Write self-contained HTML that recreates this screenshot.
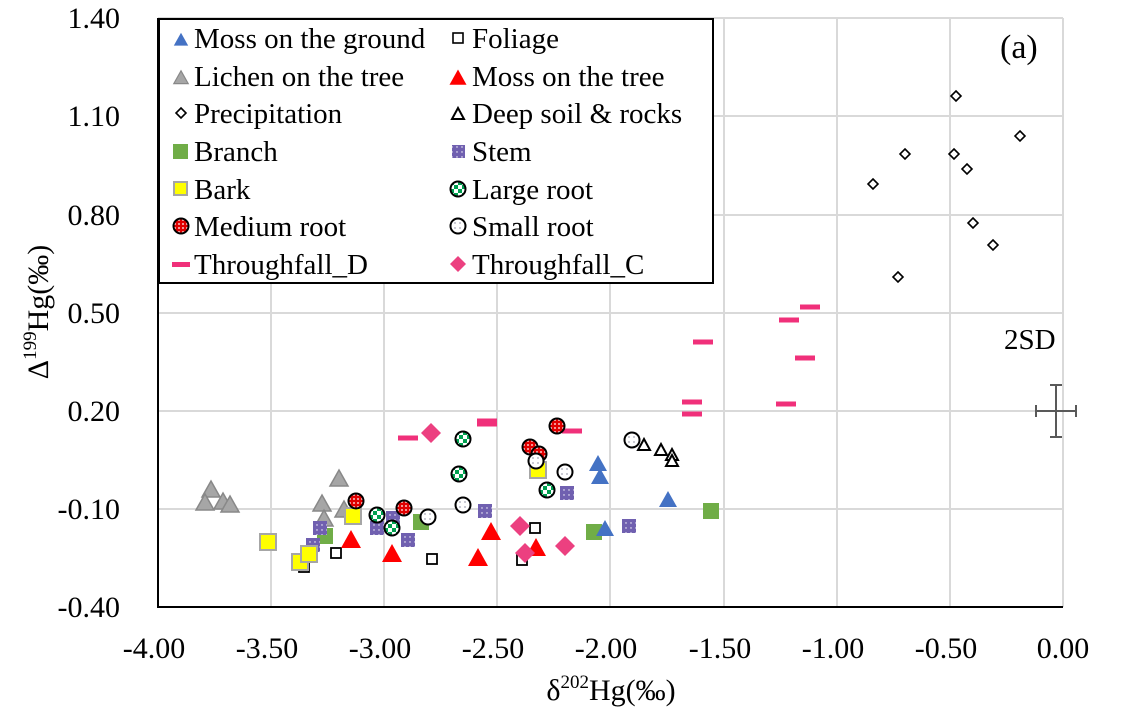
<!DOCTYPE html>
<html><head><meta charset="utf-8"><style>
html,body{margin:0;padding:0;background:#fff}
svg{display:block;font-family:"Liberation Serif",serif}
</style></head><body>
<svg width="1135" height="716" viewBox="0 0 1135 716" xmlns="http://www.w3.org/2000/svg">
<defs>
<pattern id="chk" width="8" height="8" patternUnits="userSpaceOnUse"><rect width="8" height="8" fill="#fff"/><rect width="4" height="4" fill="#00a050"/><rect x="4" y="4" width="4" height="4" fill="#00a050"/></pattern>
<pattern id="red" width="4" height="4" patternUnits="userSpaceOnUse"><rect width="4" height="4" fill="#e00000"/><circle cx="2" cy="2" r="0.9" fill="#fff"/></pattern>
<pattern id="wd" width="5" height="5" patternUnits="userSpaceOnUse"><rect width="5" height="5" fill="#fff"/><circle cx="2" cy="2" r="0.6" fill="#446"/></pattern>
<pattern id="pu" width="5" height="5" patternUnits="userSpaceOnUse"><rect width="5" height="5" fill="#7060b0"/><circle cx="2" cy="2" r="0.7" fill="#fff"/></pattern>
<g id="gt"><path d="M0,-9 L9,7 L-9,7Z" fill="#a6a6a6" stroke="#888" stroke-width="1.5"/></g>
<g id="rt"><path d="M0,-10 L10,8 L-10,8Z" fill="#f00"/></g>
<g id="bt"><path d="M0,-9 L9,7 L-9,7Z" fill="#4472c4"/></g>
<g id="ot"><path d="M0,-6 L6,5 L-6,5Z" fill="#fff" stroke="#000" stroke-width="2"/></g>
<g id="ys"><rect x="-8" y="-8" width="16" height="16" fill="#ff0" stroke="#a6a6a6" stroke-width="2"/></g>
<g id="gs"><rect x="-8" y="-8" width="16" height="16" fill="#70ad47"/></g>
<g id="ps"><rect x="-7" y="-7" width="14" height="14" fill="url(#pu)"/></g>
<g id="os"><rect x="-5" y="-5" width="10" height="10" fill="#fff" stroke="#000" stroke-width="1.8"/></g>
<g id="od"><path d="M0,-5 L5,0 L0,5 L-5,0Z" fill="#fff" stroke="#000" stroke-width="1.6"/></g>
<g id="lc"><circle r="7.5" fill="url(#chk)" stroke="#000" stroke-width="2"/></g>
<g id="mc"><circle r="7.5" fill="url(#red)" stroke="#000" stroke-width="2"/></g>
<g id="sc"><circle r="7.5" fill="url(#wd)" stroke="#000" stroke-width="2"/></g>
<g id="td"><rect x="-10" y="-2.5" width="20" height="5" fill="#f0307a"/></g>
<g id="tc"><path d="M0,-10 L10,0 L0,10 L-10,0Z" fill="#ec4080"/></g>
</defs>
<g stroke="#d9d9d9" stroke-width="2">
<line x1="271" y1="18" x2="271" y2="607"/><line x1="384" y1="18" x2="384" y2="607"/><line x1="497" y1="18" x2="497" y2="607"/><line x1="610" y1="18" x2="610" y2="607"/><line x1="724" y1="18" x2="724" y2="607"/><line x1="837" y1="18" x2="837" y2="607"/><line x1="950" y1="18" x2="950" y2="607"/><line x1="1063" y1="18" x2="1063" y2="607"/>
<line x1="158" y1="18" x2="1063" y2="18"/><line x1="158" y1="116" x2="1063" y2="116"/><line x1="158" y1="215" x2="1063" y2="215"/><line x1="158" y1="313" x2="1063" y2="313"/><line x1="158" y1="411" x2="1063" y2="411"/><line x1="158" y1="509" x2="1063" y2="509"/>
</g>
<line x1="158" y1="18" x2="158" y2="608" stroke="#000" stroke-width="2"/>
<line x1="157" y1="607" x2="1063" y2="607" stroke="#000" stroke-width="2"/>
<g font-size="30" text-anchor="end">
<text x="120" y="28">1.40</text><text x="120" y="126">1.10</text><text x="120" y="225">0.80</text><text x="120" y="323">0.50</text><text x="120" y="421">0.20</text><text x="120" y="519">-0.10</text><text x="120" y="617">-0.40</text>
</g>
<g font-size="30" text-anchor="middle">
<text x="154" y="658">-4.00</text><text x="267" y="658">-3.50</text><text x="380" y="658">-3.00</text><text x="493" y="658">-2.50</text><text x="606" y="658">-2.00</text><text x="720" y="658">-1.50</text><text x="833" y="658">-1.00</text><text x="946" y="658">-0.50</text><text x="1063" y="658">0.00</text>
<text x="611" y="700" font-size="30">δ<tspan font-size="19" dy="-12">202</tspan><tspan dy="12">Hg(‰)</tspan></text>
<text transform="translate(48,312) rotate(-90)" font-size="30">Δ<tspan font-size="19" dy="-12">199</tspan><tspan dy="12">Hg(‰)</tspan></text>
</g>
<text x="1000" y="58" font-size="34">(a)</text>
<text x="1004" y="349" font-size="29">2SD</text>
<g stroke="#595959" stroke-width="2"><line x1="1036" y1="411" x2="1076" y2="411"/><line x1="1056" y1="385" x2="1056" y2="437"/><line x1="1036" y1="405" x2="1036" y2="417"/><line x1="1076" y1="405" x2="1076" y2="417"/><line x1="1050" y1="385" x2="1062" y2="385"/><line x1="1050" y1="437" x2="1062" y2="437"/></g>
<!-- data -->
<use href="#od" x="956" y="96"/><use href="#od" x="1020" y="136"/><use href="#od" x="905" y="154"/><use href="#od" x="954" y="154"/><use href="#od" x="967" y="169"/><use href="#od" x="873" y="184"/><use href="#od" x="973" y="223"/><use href="#od" x="993" y="245"/><use href="#od" x="898" y="277"/>
<use href="#td" x="408" y="438"/><use href="#td" x="487" y="421"/><use href="#td" x="487" y="424"/><use href="#td" x="572" y="431"/><use href="#td" x="692" y="402"/><use href="#td" x="692" y="414"/><use href="#td" x="703" y="342"/><use href="#td" x="789" y="320"/><use href="#td" x="810" y="307"/><use href="#td" x="805" y="358"/><use href="#td" x="786" y="404"/>
<use href="#ot" x="644" y="445"/><use href="#ot" x="661" y="450"/><use href="#ot" x="672" y="455"/><use href="#ot" x="672" y="461"/>
<use href="#gt" x="211" y="490"/><use href="#gt" x="205" y="503"/><use href="#gt" x="223" y="502"/><use href="#gt" x="230" y="505"/><use href="#gt" x="339" y="479"/><use href="#gt" x="322" y="504"/><use href="#gt" x="324" y="519"/><use href="#gt" x="344" y="510"/>
<use href="#gs" x="325" y="536"/><use href="#gs" x="421" y="522"/><use href="#gs" x="594" y="532"/><use href="#gs" x="711" y="511"/>
<use href="#ps" x="320" y="528"/><use href="#ps" x="313" y="545"/><use href="#ps" x="377" y="528"/><use href="#ps" x="393" y="518"/><use href="#ps" x="408" y="540"/><use href="#ps" x="485" y="511"/><use href="#ps" x="567" y="493"/><use href="#ps" x="629" y="526"/>
<use href="#ys" x="268" y="542"/><use href="#os" x="304" y="567"/><use href="#ys" x="300" y="562"/><use href="#ys" x="309" y="554"/><use href="#ys" x="353" y="516"/><use href="#ys" x="538" y="470"/>
<use href="#os" x="336" y="553"/><use href="#os" x="432" y="559"/><use href="#os" x="535" y="528"/><use href="#os" x="522" y="560"/>
<use href="#rt" x="351" y="540"/><use href="#rt" x="392" y="554"/><use href="#rt" x="478" y="558"/><use href="#rt" x="491" y="532"/><use href="#rt" x="536" y="548"/>
<use href="#bt" x="598" y="464"/><use href="#bt" x="600" y="477"/><use href="#bt" x="668" y="500"/><use href="#bt" x="605" y="529"/>
<use href="#tc" x="431" y="433"/><use href="#tc" x="520" y="526"/><use href="#tc" x="525" y="553"/><use href="#tc" x="565" y="546"/>
<use href="#lc" x="463" y="439"/><use href="#lc" x="459" y="474"/><use href="#lc" x="377" y="515"/><use href="#lc" x="392" y="528"/><use href="#lc" x="547" y="490"/>
<use href="#mc" x="356" y="501"/><use href="#mc" x="404" y="508"/><use href="#mc" x="557" y="426"/><use href="#mc" x="530" y="447"/><use href="#mc" x="539" y="454"/>
<use href="#sc" x="428" y="517"/><use href="#sc" x="463" y="505"/><use href="#sc" x="536" y="461"/><use href="#sc" x="565" y="472"/><use href="#sc" x="632" y="440"/>
<!-- legend -->
<rect x="159" y="19" width="554" height="264" fill="#fff" stroke="#000" stroke-width="2"/>
<g font-size="29">
<g transform="translate(181,40) scale(0.8)"><path d="M0,-9 L9,7 L-9,7Z" fill="#4472c4"/></g>
<text x="194" y="48">Moss on the ground</text>
<g transform="translate(458,38)"><rect x="-5" y="-5" width="10" height="10" fill="#fff" stroke="#000" stroke-width="1.6"/></g>
<text x="472" y="48">Foliage</text>
<g transform="translate(181,78) scale(0.8)"><path d="M0,-9 L9,7 L-9,7Z" fill="#a6a6a6" stroke="#888" stroke-width="1.5"/></g>
<text x="194" y="86">Lichen on the tree</text>
<g transform="translate(458,78) scale(0.85)"><path d="M0,-10 L10,8 L-10,8Z" fill="#f00"/></g>
<text x="472" y="86">Moss on the tree</text>
<use href="#od" x="181" y="113"/><text x="194" y="123">Precipitation</text>
<use href="#ot" x="458" y="114"/><text x="472" y="123">Deep soil &amp; rocks</text>
<rect x="173" y="144" width="15" height="15" fill="#70ad47"/><text x="194" y="161">Branch</text>
<rect x="452" y="145" width="13" height="13" fill="url(#pu)"/><text x="472" y="161">Stem</text>
<rect x="174" y="182" width="13" height="13" fill="#ff0" stroke="#a6a6a6" stroke-width="2"/><text x="194" y="199">Bark</text>
<use href="#lc" x="458" y="189"/><text x="472" y="199">Large root</text>
<use href="#mc" x="181" y="226"/><text x="194" y="236">Medium root</text>
<use href="#sc" x="458" y="226"/><text x="472" y="236">Small root</text>
<rect x="172" y="262" width="18" height="5" fill="#f0307a"/><text x="194" y="274">Throughfall_D</text>
<g transform="translate(458,264) scale(0.8)"><path d="M0,-10 L10,0 L0,10 L-10,0Z" fill="#ec4080"/></g><text x="472" y="274">Throughfall_C</text>
</g>
</svg>
</body></html>
